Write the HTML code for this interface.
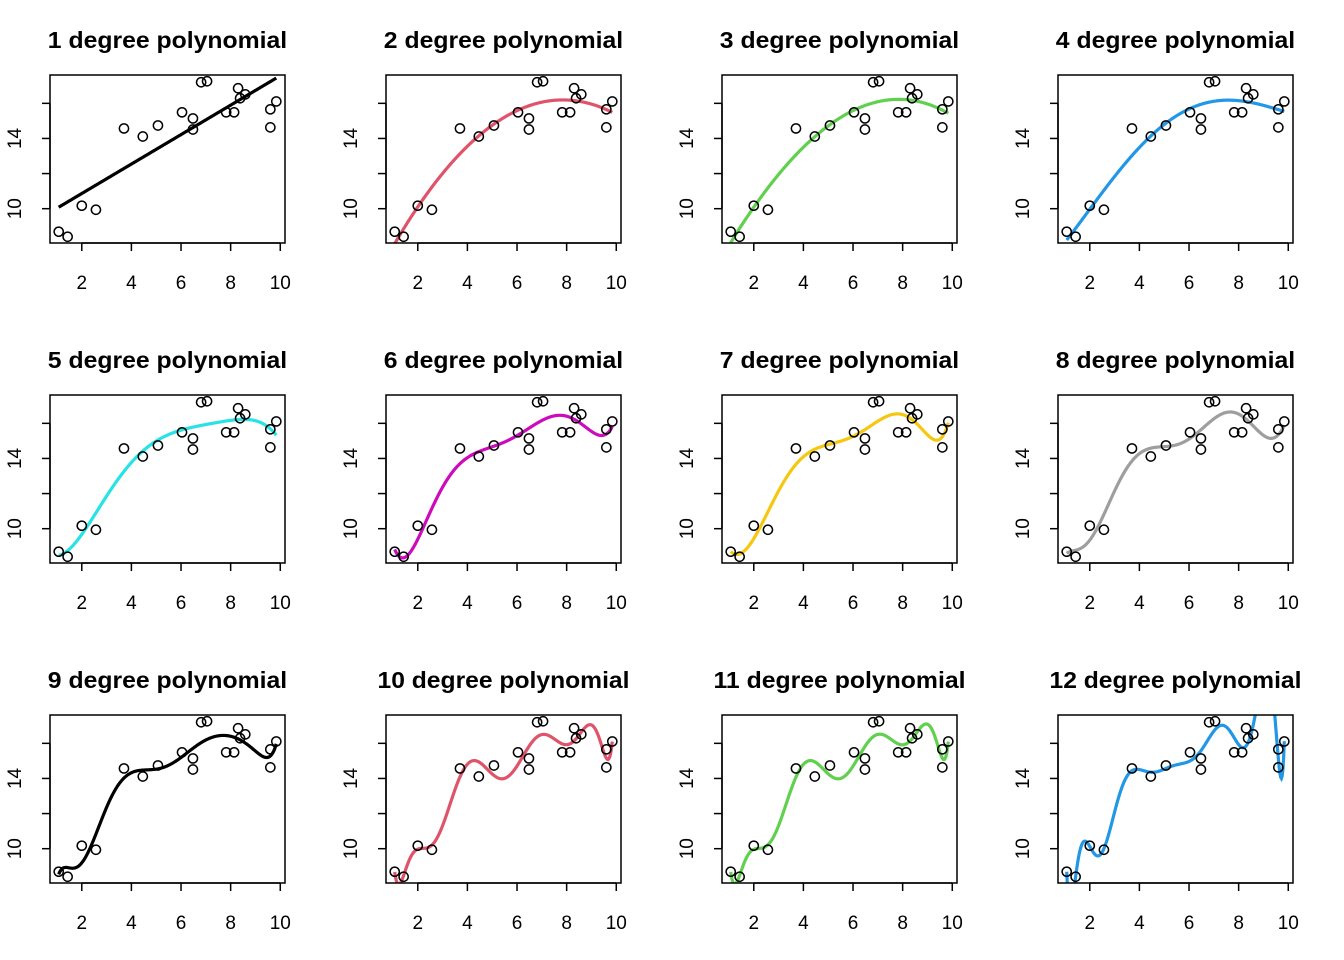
<!DOCTYPE html>
<html><head><meta charset="utf-8"><style>
html,body{margin:0;padding:0;background:#fff;}
svg{display:block;font-family:"Liberation Sans",Arial,sans-serif;}
</style></head><body>
<svg id="chart" width="1344" height="960" viewBox="0 0 1344 960" xmlns="http://www.w3.org/2000/svg"></svg>
<script>
const xs = [1.07,1.43,2.0,2.57,3.70,4.46,5.07,6.04,6.48,6.48,6.81,7.05,7.82,8.14,8.30,8.38,8.59,9.60,9.60,9.84];
const ys = [8.69,8.40,10.17,9.94,14.57,14.11,14.74,15.49,15.14,14.51,17.20,17.26,15.49,15.49,16.86,16.29,16.51,15.66,14.63,16.11];
const degrees = [1,2,3,4,5,6,7,8,9,10,11,12];
const colors = ["#000000","#DF536B","#61D04F","#2297E6","#28E2E5","#CD0BBC","#F5C710","#9E9E9E"];
const xTicks = [2,4,6,8,10];
const yTicks = [10,12,14,16];
const yLabels = [10,14];

const NS="http://www.w3.org/2000/svg";
const svg=document.getElementById('chart');
function el(tag,attrs,parent){const e=document.createElementNS(NS,tag);for(const k in attrs)e.setAttribute(k,attrs[k]);(parent||svg).appendChild(e);return e;}

const xmin=Math.min(...xs),xmax=Math.max(...xs);
const ymin=Math.min(...ys),ymax=Math.max(...ys);
function sc(x){return (2*x-xmin-xmax)/(xmax-xmin);}
function fit(deg){
  const n=xs.length,p=deg+1;
  const A=xs.map(x=>{const r=[];for(let j=0;j<p;j++)r.push(Math.pow(sc(x),j));return r;});
  const b=ys.slice();
  for(let k=0;k<p;k++){
    let norm=0;for(let i=k;i<n;i++)norm+=A[i][k]*A[i][k];norm=Math.sqrt(norm);
    const alpha=A[k][k]>0?-norm:norm;
    const v=new Array(n).fill(0);
    for(let i=k;i<n;i++)v[i]=A[i][k];v[k]-=alpha;
    let vv=0;for(let i=k;i<n;i++)vv+=v[i]*v[i];
    if(vv===0)continue;
    for(let j=k;j<p;j++){let s=0;for(let i=k;i<n;i++)s+=v[i]*A[i][j];s=2*s/vv;for(let i=k;i<n;i++)A[i][j]-=s*v[i];}
    let s=0;for(let i=k;i<n;i++)s+=v[i]*b[i];s=2*s/vv;for(let i=k;i<n;i++)b[i]-=s*v[i];
  }
  const c=new Array(p).fill(0);
  for(let k=p-1;k>=0;k--){let s=b[k];for(let j=k+1;j<p;j++)s-=A[k][j]*c[j];c[k]=s/A[k][k];}
  return x=>{const t=sc(x);let r=0;for(let j=p-1;j>=0;j--)r=r*t+c[j];return r;};
}

const xLo=xmin-0.04*(xmax-xmin),xHi=xmax+0.04*(xmax-xmin);
const yLo=ymin-0.04*(ymax-ymin),yHi=ymax+0.04*(ymax-ymin);
const defs=el('defs',{});
degrees.forEach((deg,idx)=>{
  const r=Math.floor(idx/4),c=idx%4;
  const L=50+336*c,R=285+336*c,T=75+320*r,B=243+320*r;
  const X=x=>L+(x-xLo)/(xHi-xLo)*(R-L);
  const Y=y=>B-(y-yLo)/(yHi-yLo)*(B-T);
  const g=el('g',{});
  
  
  const title=deg+' degree polynomial';
  const t=el('text',{x:(L+R)/2,y:T-27,'text-anchor':'middle','font-size':'23','font-weight':'bold',textLength:(title.length*12.6).toFixed(1),lengthAdjust:'spacingAndGlyphs'},g);
  t.textContent=title;
  
  
  const cp=el('clipPath',{id:'cp'+idx},defs);
  el('rect',{x:L,y:T,width:R-L,height:B-T},cp);
  const f=fit(deg);
  let d='';
  for(let i=0;i<=300;i++){const x=xmin+(xmax-xmin)*i/300;d+=(i?'L':'M')+X(x).toFixed(2)+','+Y(f(x)).toFixed(2);}
  const line=el('path',{d:d,fill:'none',stroke:colors[idx%8],'stroke-width':'3.2','clip-path':'url(#cp'+idx+')'},g);
  
  
  xs.forEach((x,i)=>{
    const p=el('circle',{cx:X(x),cy:Y(ys[i]),r:4.6,fill:'none',stroke:'#000','stroke-width':'1.5'},g);
    
    
  });
  const box=el('rect',{x:L,y:T,width:R-L,height:B-T,fill:'none',stroke:'#000','stroke-width':'1.5'},g);
  
  
  const xa=el('g',{},g);
  
  
  el('line',{x1:X(xTicks[0]),x2:X(xTicks[xTicks.length-1]),y1:B,y2:B,stroke:'#000','stroke-width':'1.5'},xa);
  xTicks.forEach(v=>{
    el('line',{x1:X(v),x2:X(v),y1:B,y2:B+8,stroke:'#000','stroke-width':'1.5'},xa);
    const tl=el('text',{x:X(v),y:B+46,'text-anchor':'middle','font-size':'19'},xa);
    tl.textContent=v;
  });
  const ya=el('g',{},g);
  
  
  el('line',{x1:L,x2:L,y1:Y(yTicks[0]),y2:Y(yTicks[yTicks.length-1]),stroke:'#000','stroke-width':'1.5'},ya);
  yTicks.forEach(v=>{
    el('line',{x1:L-8,x2:L,y1:Y(v),y2:Y(v),stroke:'#000','stroke-width':'1.5'},ya);
  });
  yLabels.forEach(v=>{
    const tl=el('text',{x:L-29,y:Y(v),'text-anchor':'middle','font-size':'19',transform:'rotate(-90 '+(L-29)+' '+Y(v)+')'},ya);
    tl.textContent=v;
  });
});
</script>
</body></html>
